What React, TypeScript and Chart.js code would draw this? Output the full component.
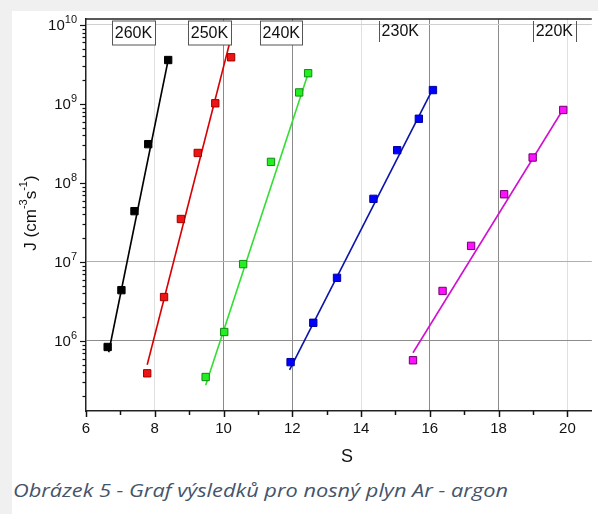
import React, { useEffect, useRef } from 'react';
import { Chart, registerables } from 'chart.js';

Chart.register(...registerables);

// ---------- data ----------
const seriesLabels = ['260K', '250K', '240K', '230K', '220K'];

const s260 = [6.63, 7.03, 7.41, 7.81, 8.39];
const j260 = [8.4e5, 4.4e6, 4.4e7, 3.1e8, 3.6e9];
const s250 = [7.78, 8.27, 8.76, 9.25, 9.76, 10.22];
const j250 = [3.9e5, 3.6e6, 3.5e7, 2.4e8, 1.02e9, 3.9e9];
const s240 = [9.48, 10.02, 10.57, 11.38, 12.2, 12.46];
const j240 = [3.5e5, 1.3e6, 9.4e6, 1.85e8, 1.4e9, 2.45e9];
const s230 = [11.95, 12.61, 13.3, 14.36, 15.05, 15.68, 16.09];
const j230 = [5.4e5, 1.7e6, 6.3e6, 6.3e7, 2.6e8, 6.5e8, 1.5e9];
const s220 = [15.51, 16.37, 17.2, 18.16, 18.99, 19.88];
const j220 = [5.7e5, 4.3e6, 1.6e7, 7.2e7, 2.1e8, 8.4e8];

// fitted lines (end points)
const fit260S = [6.66, 8.39];
const fit260J = [7.2e5, 3.6e9];
const fit250S = [7.78, 10.22];
const fit250J = [5.0e5, 7.0e9];
const fit240S = [9.48, 12.47];
const fit240J = [2.75e5, 2.5e9];
const fit230S = [11.92, 16.12];
const fit230J = [4.3e5, 1.66e9];
const fit220S = [15.51, 19.9];
const fit220J = [7.1e5, 8.9e8];

// label boxes: centre along S
const labelCenterS = [7.38, 9.59, 11.68, 15.14, 19.62];

const xTickValues = [6, 7, 8, 9, 10, 11, 12, 13, 14, 15, 16, 17, 18, 19, 20];
const yDecades = [1e6, 1e7, 1e8, 1e9, 1e10];
const yExponents = ['6', '7', '8', '9', '10'];

const xTitle = 'S';
const caption = 'Obrázek 5 - Graf výsledků pro nosný plyn Ar - argon';

// ---------- styles ----------
const markerFill = ['#000000', '#ee1515', '#22ee22', '#0000ff', '#ff10ff'];
const markerEdge = ['#000000', '#a00000', '#108a10', '#0000a0', '#700070'];
const lineColor = ['#000000', '#d80000', '#33dd33', '#0a14a8', '#d010d0'];
const FONT = '"Liberation Sans", Arial, Helvetica, sans-serif';

const pointSets = [
  { s: s260, j: j260 },
  { s: s250, j: j250 },
  { s: s240, j: j240 },
  { s: s230, j: j230 },
  { s: s220, j: j220 },
];
const fitSets = [
  { s: fit260S, j: fit260J },
  { s: fit250S, j: fit250J },
  { s: fit240S, j: fit240J },
  { s: fit230S, j: fit230J },
  { s: fit220S, j: fit220J },
];

const overlay = {
  id: 'overlay',
  afterDatasetsDraw(chart: any) {
    const ctx = chart.ctx as CanvasRenderingContext2D;
    const { left, right, top, bottom } = chart.chartArea;
    const xs = chart.scales.x;
    const ys = chart.scales.y;
    ctx.save();

    const seg = (x1: number, y1: number, x2: number, y2: number) => {
      ctx.beginPath();
      ctx.moveTo(x1, y1);
      ctx.lineTo(x2, y2);
      ctx.stroke();
    };

    // top frame
    ctx.strokeStyle = '#222';
    ctx.lineWidth = 1.5;
    seg(left, top, right, top);

    // x tick marks
    ctx.strokeStyle = '#111';
    ctx.lineWidth = 1.5;
    xTickValues.forEach((v) => {
      const px = Math.round(xs.getPixelForValue(v)) + 0.5;
      const len = v % 2 === 0 ? 6 : 4;
      seg(px, bottom, px, bottom + len);
    });

    // y tick marks (log minors)
    ctx.lineWidth = 1.2;
    for (let e = 5; e <= 10; e++) {
      for (let m = 1; m <= 9; m++) {
        const v = m * Math.pow(10, e);
        if (v < ys.min || v > ys.max) continue;
        const py = Math.round(ys.getPixelForValue(v)) + 0.5;
        const len = m === 1 ? 6 : 3.5;
        seg(left - len, py, left, py);
      }
    }

    // y labels with superscripts
    ctx.fillStyle = '#111';
    ctx.textBaseline = 'middle';
    ctx.textAlign = 'left';
    yDecades.forEach((v, i) => {
      const py = ys.getPixelForValue(v);
      const exp = yExponents[i];
      ctx.font = `11px ${FONT}`;
      const ew = ctx.measureText(exp).width;
      ctx.font = `15px ${FONT}`;
      const bw = ctx.measureText('10').width;
      const xr = left - 9;
      ctx.fillText('10', xr - ew - bw, py + 1);
      ctx.font = `11px ${FONT}`;
      ctx.fillText(exp, xr - ew, py - 5);
    });

    // x title
    ctx.font = `18px ${FONT}`;
    ctx.textAlign = 'center';
    ctx.fillStyle = '#111';
    ctx.fillText(xTitle, 335, 446);

    // y title rotated with superscripts
    const parts: [string, boolean][] = [
      ['J (cm', false],
      ['-3', true],
      ['s', false],
      ['-1', true],
      [')', false],
    ];
    const mainF = `17px ${FONT}`;
    const supF = `11px ${FONT}`;
    let total = 0;
    parts.forEach(([t, sup]) => {
      ctx.font = sup ? supF : mainF;
      total += ctx.measureText(t).width;
    });
    ctx.save();
    ctx.translate(19, 202);
    ctx.rotate(-Math.PI / 2);
    ctx.textAlign = 'left';
    let cx = -total / 2;
    parts.forEach(([t, sup]) => {
      ctx.font = sup ? supF : mainF;
      ctx.fillText(t, cx, sup ? -7 : 0);
      cx += ctx.measureText(t).width;
    });
    ctx.restore();

    // temperature label boxes
    ctx.font = `16px ${FONT}`;
    ctx.textAlign = 'center';
    ctx.textBaseline = 'middle';
    const boxTop = top + 2;
    labelCenterS.forEach((sv, i) => {
      const cxp = xs.getPixelForValue(sv);
      const text = seriesLabels[i];
      const w = ctx.measureText(text).width + 5;
      const x0 = Math.round(cxp - w / 2) + 0.5;
      const x1 = Math.round(cxp + w / 2) + 0.5;
      ctx.strokeStyle = '#555';
      ctx.lineWidth = 1;
      if (i < 3) {
        ctx.fillStyle = '#fff';
        ctx.fillRect(x0, boxTop, x1 - x0, 24);
        ctx.strokeRect(x0, boxTop, x1 - x0, 24);
        ctx.fillStyle = '#111';
        ctx.fillText(text, cxp, boxTop + 13);
      } else {
        ctx.fillStyle = '#111';
        ctx.fillText(text, cxp, boxTop + 11);
        seg(x0, boxTop, x0, boxTop + 21);
        if (i === 4) seg(x1, boxTop, x1, boxTop + 21);
      }
    });

    ctx.restore();
  },
};

export default function App() {
  const canvasRef = useRef<HTMLCanvasElement | null>(null);
  const capRef = useRef<HTMLSpanElement | null>(null);

  useEffect(() => {
    if (capRef.current) {
      const w = capRef.current.getBoundingClientRect().width;
      if (w > 0) capRef.current.style.transform = `scaleX(${495 / w})`;
    }
    const canvas = canvasRef.current;
    if (!canvas) return;

    const datasets: any[] = [];
    pointSets.forEach((p, i) => {
      datasets.push({
        label: seriesLabels[i],
        data: p.s.map((s, k) => ({ x: s, y: p.j[k] })),
        showLine: false,
        pointStyle: 'rect',
        pointRadius: 5.2,
        pointBackgroundColor: markerFill[i],
        pointBorderColor: markerEdge[i],
        pointBorderWidth: 1,
      });
    });
    fitSets.forEach((f, i) => {
      datasets.push({
        label: seriesLabels[i] + ' fit',
        data: f.s.map((s, k) => ({ x: s, y: f.j[k] })),
        showLine: true,
        borderColor: lineColor[i],
        borderWidth: 1.6,
        pointRadius: 0,
        fill: false,
      });
    });

    const xGridColor = (v: number) => {
      if ([10, 12, 16, 18].includes(v)) return '#8a8a8a';
      if ([8, 14, 20].includes(v)) return '#e0e0e0';
      return 'rgba(0,0,0,0)';
    };
    const yGridColor = (v: number) => {
      if (Math.abs(v - 1e6) < 1) return '#8c8c8c';
      if (Math.abs(v - 1e7) < 1) return '#b0b0b0';
      if (Math.abs(v - 1e10) < 1) return '#d0d0d0';
      return 'rgba(0,0,0,0)';
    };

    const chart = new Chart(canvas, {
      type: 'scatter',
      data: { datasets },
      options: {
        animation: false,
        responsive: false,
        devicePixelRatio: 1,
        layout: { padding: { top: 8, left: 0, right: 0, bottom: 0 } },
        plugins: { legend: { display: false }, tooltip: { enabled: false } },
        scales: {
          x: {
            type: 'linear',
            min: 6,
            max: 20.71,
            afterBuildTicks: (s: any) => {
              s.ticks = xTickValues.map((v) => ({ value: v }));
            },
            afterFit: (s: any) => {
              s.height = 60;
            },
            ticks: {
              autoSkip: false,
              maxRotation: 0,
              color: '#111',
              padding: 3,
              font: { family: FONT, size: 15 },
              callback: (v: any) => (Number(v) % 2 === 0 ? String(v) : ''),
            },
            grid: {
              color: (c: any) => xGridColor(c.tick ? c.tick.value : 0),
              lineWidth: 1,
              tickLength: 6,
              tickColor: 'rgba(0,0,0,0)',
            },
            border: { display: true, color: '#222', width: 1.5 },
          },
          y: {
            type: 'logarithmic',
            min: 1.3e5,
            max: 1.19e10,
            afterBuildTicks: (s: any) => {
              s.ticks = yDecades.map((v) => ({ value: v }));
            },
            afterFit: (s: any) => {
              s.width = 74;
            },
            ticks: { display: false },
            grid: {
              color: (c: any) => yGridColor(c.tick ? c.tick.value : 0),
              lineWidth: 1,
              tickLength: 6,
              tickColor: 'rgba(0,0,0,0)',
            },
            border: { display: true, color: '#222', width: 1.5 },
          },
        },
      },
      plugins: [overlay],
    } as any);

    return () => chart.destroy();
  }, []);

  return (
    <div
      style={{
        position: 'fixed',
        left: 0,
        top: 0,
        width: 598,
        height: 514,
        overflow: 'hidden',
        background: '#f0f0f0',
      }}
    >
      <div
        style={{
          position: 'absolute',
          left: 12,
          top: 11,
          right: 0,
          bottom: 0,
          background: '#ffffff',
        }}
      >
        <canvas
          ref={canvasRef}
          width={586}
          height={460}
          style={{ position: 'absolute', left: 0, top: 0, width: 586, height: 460 }}
        />
      </div>
      <div
        style={{
          position: 'absolute',
          left: 13,
          top: 480,
          whiteSpace: 'nowrap',
          fontFamily: '"Open Sans", "Noto Sans", sans-serif',
          fontStyle: 'italic',
          fontSize: 19,
          lineHeight: '20px',
          color: '#44546a',
        }}
      >
        <span ref={capRef} style={{ display: 'inline-block', transformOrigin: 'left center' }}>
          {caption}
        </span>
      </div>
    </div>
  );
}
